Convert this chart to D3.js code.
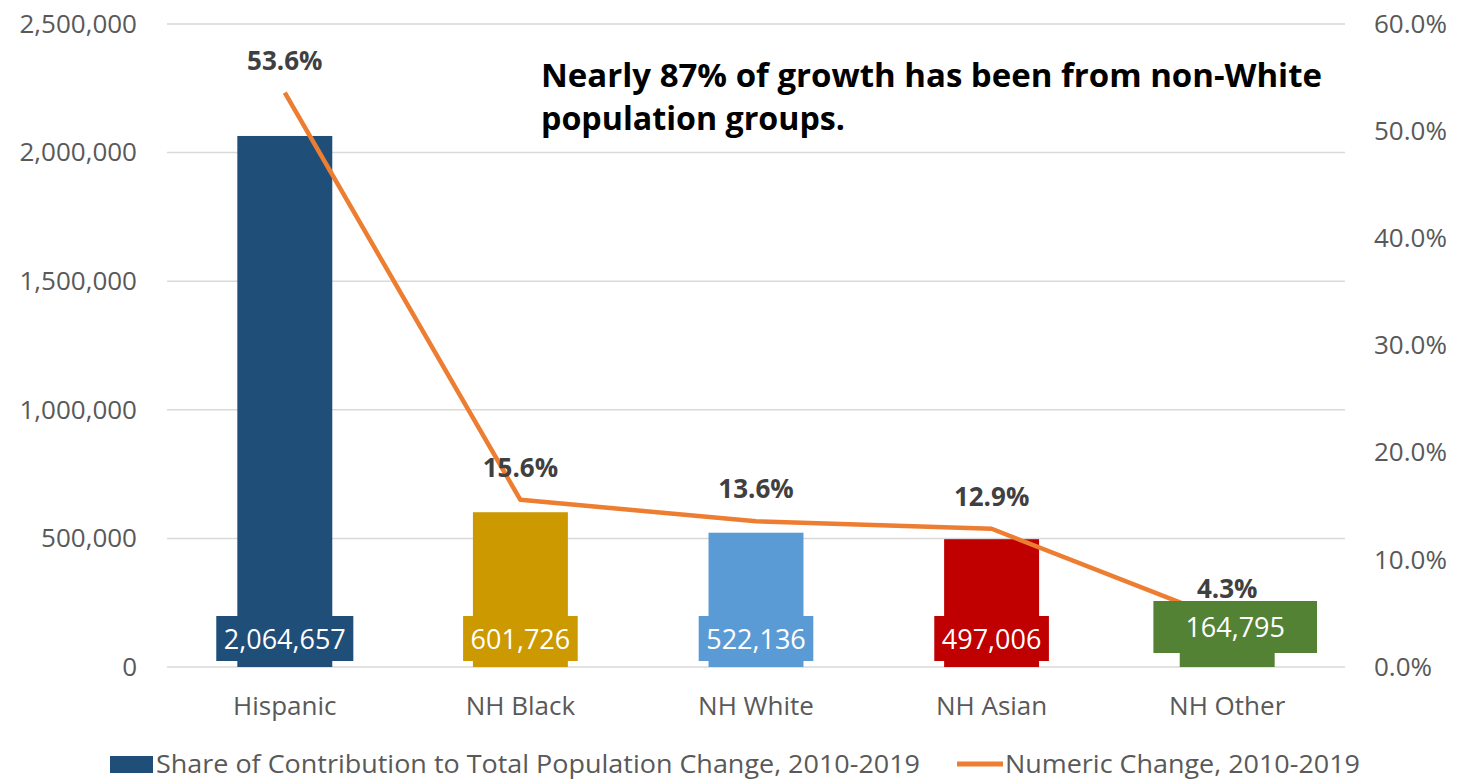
<!DOCTYPE html>
<html lang="en">
<head>
    <meta charset="UTF-8">
    <title>Population Growth by Group, 2010-2019</title>
    <script src="https://d3js.org/d3.v7.min.js"></script>
    <style>
        body {
            margin: 0;
            background-color: #ffffff;
            font-family: "Open Sans", sans-serif;
        }
        svg {
            display: block;
        }
    </style>
</head>
<body>
    <svg id="chart"></svg>
    <script>
        // data
        const categories = ["Hispanic", "NH Black", "NH White", "NH Asian", "NH Other"];
        const numericChange = [2064657, 601726, 522136, 497006, 164795];
        const shareOfChange = [0.536, 0.156, 0.136, 0.129, 0.043];
        const barColors = ["#1F4E79", "#CC9900", "#5B9BD5", "#C00000", "#548235"];
        const leftTicks = [0, 500000, 1000000, 1500000, 2000000, 2500000];
        const rightTicks = [0, 0.1, 0.2, 0.3, 0.4, 0.5, 0.6];
        const seriesNames = ["Share of Contribution to Total Population Change, 2010-2019", "Numeric Change, 2010-2019"];
        const note = ["Nearly 87% of growth has been from non-White", "population groups."];

        const width = 1457, height = 780;
        const plot = { left: 167, right: 1345, top: 24, bottom: 667 };

        const svg = d3.select("#chart")
            .attr("width", width)
            .attr("height", height);

        const x = d3.scaleBand()
            .domain(categories)
            .range([plot.left, plot.right])
            .paddingInner(0.597)
            .paddingOuter(0.2985);

        const y = d3.scaleLinear()
            .domain([0, 2500000])
            .range([plot.bottom, plot.top]);

        const y2 = d3.scaleLinear()
            .domain([0, 0.6])
            .range([plot.bottom, plot.top]);

        const rows = categories.map((c, i) => ({
            cat: c, count: numericChange[i], share: shareOfChange[i], color: barColors[i]
        }));

        // gridlines
        svg.append("g")
            .selectAll("line")
            .data(leftTicks)
            .join("line")
            .attr("x1", plot.left)
            .attr("x2", plot.right)
            .attr("y1", d => y(d))
            .attr("y2", d => y(d))
            .attr("stroke", "#d9d9d9")
            .attr("stroke-width", 1.5);

        // left axis
        const leftAxis = svg.append("g")
            .attr("transform", "translate(147,0)")
            .call(d3.axisLeft(y).tickValues(leftTicks).tickFormat(d3.format(",")).tickSize(0).tickPadding(10));
        leftAxis.select(".domain").remove();
        leftAxis.selectAll("text")
            .attr("fill", "#595959")
            .style("font-family", "'Open Sans', sans-serif")
            .style("font-size", "26px");

        // right axis
        const rightAxis = svg.append("g")
            .attr("transform", "translate(1364,0)")
            .call(d3.axisRight(y2).tickValues(rightTicks).tickFormat(d3.format(".1%")).tickSize(0).tickPadding(10));
        rightAxis.select(".domain").remove();
        rightAxis.selectAll("text")
            .attr("fill", "#595959")
            .style("font-family", "'Open Sans', sans-serif")
            .style("font-size", "26px");

        // category axis
        const bottomAxis = svg.append("g")
            .attr("transform", `translate(0,${plot.bottom})`)
            .call(d3.axisBottom(x).tickSize(0).tickPadding(30));
        bottomAxis.select(".domain").remove();
        bottomAxis.selectAll("text")
            .attr("fill", "#595959")
            .style("font-family", "'Open Sans', sans-serif")
            .style("font-size", "26px");

        // bars
        svg.append("g")
            .selectAll("rect")
            .data(rows)
            .join("rect")
            .attr("x", d => x(d.cat))
            .attr("y", d => y(d.count))
            .attr("width", x.bandwidth())
            .attr("height", d => y(0) - y(d.count))
            .attr("fill", d => d.color);

        // share line
        const line = d3.line()
            .x(d => x(d.cat) + x.bandwidth() / 2)
            .y(d => y2(d.share));

        svg.append("path")
            .datum(rows)
            .attr("d", line)
            .attr("fill", "none")
            .attr("stroke", "#ED7D31")
            .attr("stroke-width", 4.5)
            .attr("stroke-linejoin", "round");

        // count labels inside the base of each bar
        const boxes = svg.append("g")
            .selectAll("g")
            .data(rows)
            .join("g");

        boxes.each(function(d, i) {
            const g = d3.select(this);
            const last = i === rows.length - 1;
            const cx = x(d.cat) + x.bandwidth() / 2 + (last ? 8 : 0);
            const bottom = last ? y(0) - 14 : y(0) - 6;
            const h = last ? 52 : 45;
            const rect = g.append("rect").attr("fill", d.color);
            const t = g.append("text")
                .attr("x", cx)
                .attr("y", bottom - (last ? 16 : 12.5))
                .attr("text-anchor", "middle")
                .attr("fill", "#ffffff")
                .style("font-size", "27px")
                .text(d3.format(",")(d.count));
            const w = t.node().getComputedTextLength() + (last ? 64 : 15);
            rect.attr("x", cx - w / 2)
                .attr("y", bottom - h)
                .attr("width", w)
                .attr("height", h);
        });

        // share labels above the line
        svg.append("g")
            .selectAll("text")
            .data(rows)
            .join("text")
            .attr("x", d => x(d.cat) + x.bandwidth() / 2)
            .attr("y", d => y2(d.share) - 23)
            .attr("text-anchor", "middle")
            .attr("fill", "#404040")
            .style("font-size", "26px")
            .style("font-weight", "bold")
            .text(d => d3.format(".1%")(d.share));

        // annotation
        svg.append("text")
            .attr("x", 541)
            .attr("y", 87)
            .attr("textLength", 781)
            .attr("lengthAdjust", "spacingAndGlyphs")
            .attr("fill", "#000000")
            .style("font-size", "32px")
            .style("font-weight", "bold")
            .text(note[0]);
        svg.append("text")
            .attr("x", 541)
            .attr("y", 130)
            .attr("textLength", 304)
            .attr("lengthAdjust", "spacingAndGlyphs")
            .attr("fill", "#000000")
            .style("font-size", "32px")
            .style("font-weight", "bold")
            .text(note[1]);

        // legend
        const legend = svg.append("g");
        legend.append("rect")
            .attr("x", 110).attr("y", 756)
            .attr("width", 43).attr("height", 17)
            .attr("fill", barColors[0]);
        legend.append("text")
            .attr("x", 156).attr("y", 773)
            .attr("textLength", 764)
            .attr("lengthAdjust", "spacingAndGlyphs")
            .attr("fill", "#595959")
            .style("font-size", "25px")
            .text(seriesNames[0]);
        legend.append("line")
            .attr("x1", 957).attr("x2", 1003)
            .attr("y1", 764).attr("y2", 764)
            .attr("stroke", "#ED7D31")
            .attr("stroke-width", 5);
        legend.append("text")
            .attr("x", 1005).attr("y", 773)
            .attr("textLength", 355)
            .attr("lengthAdjust", "spacingAndGlyphs")
            .attr("fill", "#595959")
            .style("font-size", "25px")
            .text(seriesNames[1]);
    </script>
</body>
</html>
